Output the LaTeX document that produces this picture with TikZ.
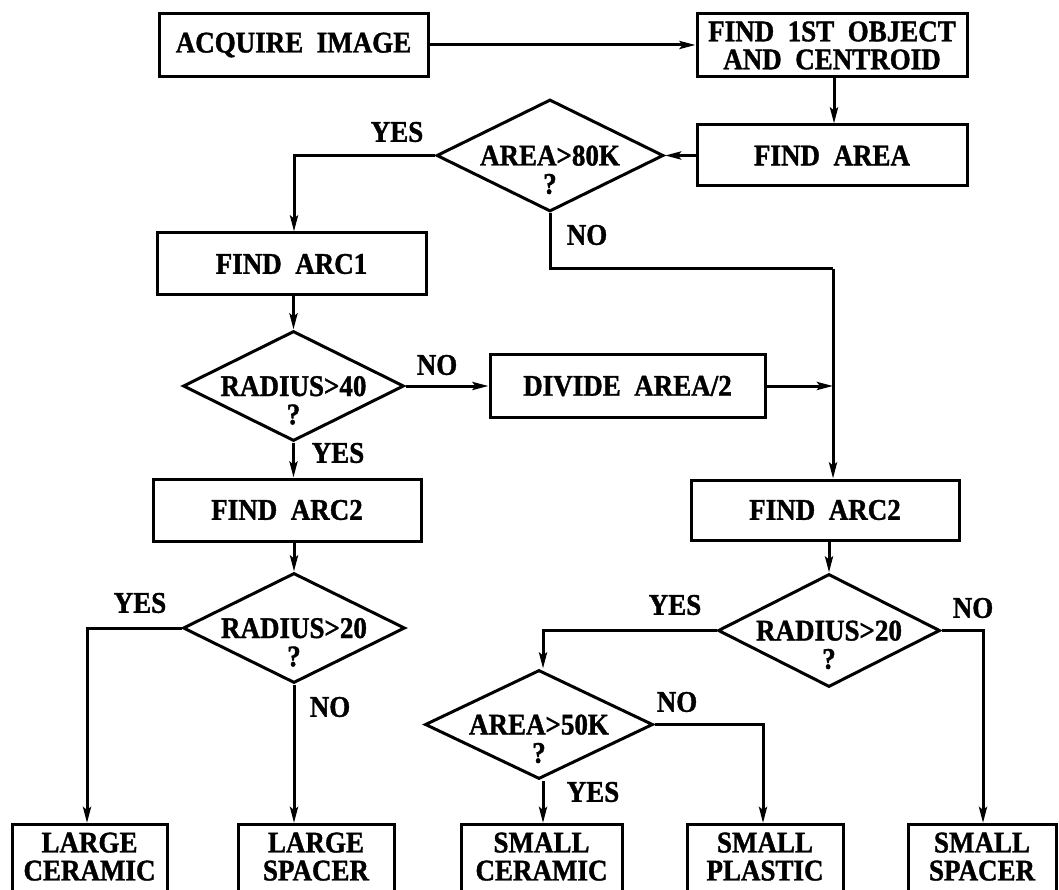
\documentclass[tikz,border=0pt]{standalone}
\usepackage{fontspec}
\setmainfont{Liberation Serif}[FakeStretch=0.9, BoldFeatures={FakeBold=1.2}]
\usetikzlibrary{shapes.geometric,arrows.meta}
\newcommand{\dq}[1]{\raisebox{-10pt}[0pt][0pt]{\makebox[0pt]{\begin{tabular}[t]{@{}c@{}}#1\\?\end{tabular}}}}
\newcommand{\gp}{\hspace{0.45em}}
\tikzset{
  txt/.style={font=\fontsize{30}{28}\selectfont\bfseries},
  box/.style={txt, draw, line width=3pt, inner sep=0pt, align=center},
  endbox/.style={box, anchor=north, minimum height=80pt, text depth=16pt},
  dec/.style={txt, diamond, draw, line width=3pt, inner sep=0pt},
  lab/.style={txt, inner sep=0pt},
  conn/.style={draw, line width=3pt},
  arr/.style={conn, -{Stealth[length=16pt,width=8pt,inset=3pt]}},
}
\begin{document}
\begin{tikzpicture}[x=1pt,y=-1pt]
\useasboundingbox (0,0) rectangle (1059,890);
\clip (0,0) rectangle (1059,890);
% boxes
\node[box, minimum width=269pt, minimum height=63pt] (acq) at (293.5,45) {ACQUIRE\gp IMAGE};
\node[box, minimum width=270pt, minimum height=63pt] (find1) at (832,45.5) {FIND\gp 1ST\gp OBJECT\\AND\gp CENTROID};
\node[box, minimum width=270pt, minimum height=61pt] (area) at (832,155.5) {FIND\gp AREA};
\node[box, minimum width=269pt, minimum height=62pt] (arc1) at (291.5,264) {FIND\gp ARC1};
\node[box, minimum width=275pt, minimum height=63pt] (divide) at (627.5,386) {DIVIDE\gp AREA/2};
\node[box, minimum width=268pt, minimum height=62pt] (arc2L) at (287,510) {FIND\gp ARC2};
\node[box, minimum width=268pt, minimum height=60pt] (arc2R) at (825,510) {FIND\gp ARC2};
% diamonds
\node[dec, minimum width=227pt, minimum height=112pt] (d1) at (550,155.5) {\dq{AREA>80K}};
\node[dec, minimum width=221pt, minimum height=110pt] (d2) at (293.5,386) {\dq{RADIUS>40}};
\node[dec, minimum width=222pt, minimum height=110pt] (d3) at (294,628) {\dq{RADIUS>20}};
\node[dec, minimum width=222pt, minimum height=113pt] (d4) at (829,630.5) {\dq{RADIUS>20}};
\node[dec, minimum width=228pt, minimum height=109pt] (d5) at (539,724.5) {\dq{AREA>50K}};
% end boxes
\node[endbox, minimum width=155pt] (lc) at (89.5,823) {LARGE\\CERAMIC};
\node[endbox, minimum width=156pt] (ls) at (316,823) {LARGE\\SPACER};
\node[endbox, minimum width=161pt] (sc) at (541.5,823) {SMALL\\CERAMIC};
\node[endbox, minimum width=156pt] (sp) at (765,823) {SMALL\\PLASTIC};
\node[endbox, minimum width=148pt] (ss) at (982,823) {SMALL\\SPACER};
% junction
\coordinate (j1) at (833,269);
% connectors
\path[arr] (acq.east) -- (acq.east -| find1.west);
\path[arr] (find1.south -| 834,0) -- (area.north -| 834,0);
\path[arr] (area.west) -- (d1.east);
\path[arr] (d1.west) -| (arc1.north -| 294,0);
\path[conn] (d1.south) -- (d1.south |- j1) -- (j1);
\path[arr] (j1) -- (j1 |- arc2R.north);
\path[arr] (arc1.south -| d2.north) -- (d2.north);
\path[arr] (d2.east) -- (divide.west);
\path[arr] (divide.east) -- (divide.east -| j1);
\path[arr] (d2.south) -- (d2.south |- arc2L.north);
\path[arr] (arc2L.south -| d3.north) -- (d3.north);
\path[arr] (arc2R.south -| d4.north) -- (d4.north);
\path[arr] (d3.west) -| (lc.north -| 87,0);
\path[arr] (d3.south) -- (d3.south |- ls.north);
\path[arr] (d4.west) -| (d5.north -| 543,0);
\path[arr] (d4.east) -| (ss.north -| 983,0);
\path[arr] (d5.east) -| (sp.north -| 763,0);
\path[arr] (d5.south -| 543,0) -- (sc.north -| 543,0);
% labels
\node[lab] (l1) at (397,132) {YES};
\node[lab] (l2) at (587,235) {NO};
\node[lab] (l3) at (437,365) {NO};
\node[lab] (l4) at (338,453) {YES};
\node[lab] (l5) at (140,603) {YES};
\node[lab] (l6) at (330,707) {NO};
\node[lab] (l7) at (675,605) {YES};
\node[lab] (l8) at (973,608) {NO};
\node[lab] (l9) at (677,702) {NO};
\node[lab] (l10) at (593,792) {YES};
\end{tikzpicture}
\end{document}
